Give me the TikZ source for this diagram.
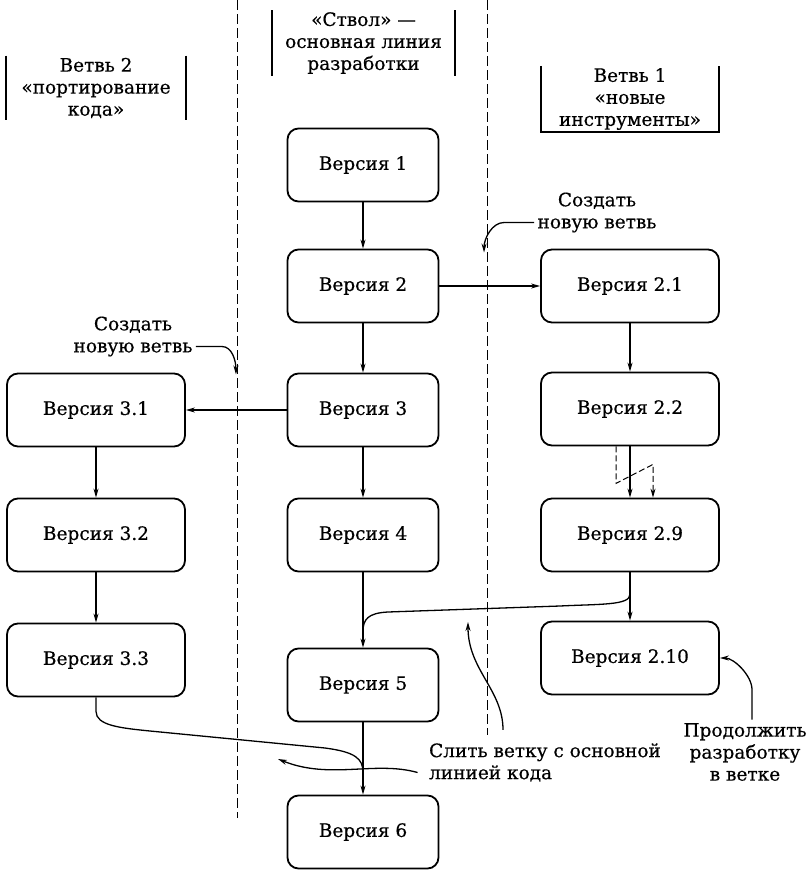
\documentclass[tikz,border=0pt]{standalone}
\usepackage{fontspec}
\setmainfont{DejaVu Serif}[FakeBold=0.5]
\usepackage{tikz}
\usetikzlibrary{arrows.meta,positioning,calc}

\begin{document}
\begin{tikzpicture}[x=1pt,y=-1pt,>={Stealth[length=9pt,width=5pt]},
  every node/.style={font=\fontsize{18.5}{22}\selectfont},
  ver/.style={draw,line width=1.8pt,rounded corners=11pt,minimum height=73pt,align=center},
  vmid/.style={ver,minimum width=151pt},
  vside/.style={ver,minimum width=178pt},
  link/.style={->,line width=1.3pt},
  wire/.style={line width=1.3pt},
  divider/.style={line width=1pt,dash pattern=on 10pt off 4pt},
  head/.style={align=center,inner xsep=0pt,inner ysep=2pt},
  bar/.style={line width=1.8pt}]
  \useasboundingbox (0,0) rectangle (811,870);
  \draw[divider] (237,0) -- (237,818);
  \draw[divider] (487,0) -- (487,735);
  \node[head,minimum width=179pt] (h2) at (96,88) {Ветвь 2\\«портирование\\кода»};
  \node[head,minimum width=183pt] (hm) at (363.5,43) {«Ствол» —\\основная линия\\разработки};
  \node[head,minimum width=178pt] (h1) at (630,99) {Ветвь 1\\«новые\\инструменты»};
  \draw[bar] (h2.north west) -- (h2.south west) (h2.north east) -- (h2.south east);
  \draw[bar] (hm.north west) -- (hm.south west) (hm.north east) -- (hm.south east);
  \draw[bar] (h1.north west) -- (h1.south west) -- (h1.south east) -- (h1.north east);
  \node[vmid] (v1) at (363,165) {Версия 1};
  \node[vmid] (v2) at (363,286) {Версия 2};
  \node[vmid] (v3) at (363,410) {Версия 3};
  \node[vmid] (v4) at (363,535) {Версия 4};
  \node[vmid] (v5) at (363,685) {Версия 5};
  \node[vmid] (v6) at (363,832) {Версия 6};
  \node[vside] (v21) at (630,286) {Версия 2.1};
  \node[vside] (v22) at (630,409) {Версия 2.2};
  \node[vside] (v29) at (630,535) {Версия 2.9};
  \node[vside] (v210) at (630,658) {Версия 2.10};
  \node[vside] (v31) at (96,410) {Версия 3.1};
  \node[vside] (v32) at (96,535) {Версия 3.2};
  \node[vside] (v33) at (96,660) {Версия 3.3};
  \draw[link] (v1) -- (v2);
  \draw[link] (v2) -- (v3);
  \draw[link] (v3) -- (v4);
  \draw[link] (v4) -- (v5);
  \draw[link] (v5) -- (v6);
  \draw[link] (v2) -- (v21);
  \draw[link] (v3) -- (v31);
  \draw[link] (v21) -- (v22);
  \draw[link] (v22) -- (v29);
  \draw[link] (v29) -- (v210);
  \draw[link] (v31) -- (v32);
  \draw[link] (v32) -- (v33);
  \draw[link,line width=1pt,dash pattern=on 6pt off 3pt] ([xshift=-14pt]v22.south) -- ++(0,37) -- ++(37,-19) -- ([xshift=23pt]v29.north);
  \coordinate (m1) at ($(v29.south)+(0,22)$);
  \coordinate (m2) at ($(v4.south)+(0,59)$);
  \coordinate (m3) at ($(v5.south)+(0,50)$);
  \draw[wire] (m1) .. controls +(0,11) and +(40,-2) .. (560,606) -- (388,612) .. controls +(-20,1) and +(0,-12) .. (m2);
  \draw[wire] (v33.south) -- ++(0,14) .. controls +(0,14) and +(-30,-3) .. (150,731) -- (325,748) .. controls +(30,4) and +(0,-14) .. (m3);
  \node (new1) at (597,212.5) [align=center] {Создать\\новую ветвь};
  \node (new2) at (133,336.5) [align=center] {Создать\\новую ветвь};
  \node (merge) at (545,762.5) [align=left] {Слить ветку с основной\\линией кода};
  \node (cont) at (745,752) [align=center] {Продолжить\\разработку\\в ветке};
  \coordinate (t1) at (468,622);
  \coordinate (t2) at (278,759);
  \draw[link] ([yshift=-10pt]new1.west) -- ++(-30,0) .. controls +(-12,0) and +(0,-14) .. ++(-20,30);
  \draw[link] ([yshift=-10pt]new2.east) -- ++(26,0) .. controls +(10,0) and +(0,-14) .. ++(14,28);
  \draw[link] ([xshift=-42pt,yshift=10pt]merge.north) .. controls +(0,-40) and +(0,48) .. (t1);
  \draw[link] ([xshift=-8pt,yshift=-10pt]merge.west) .. controls +(-43,-12) and +(52,21) .. (t2);
  \draw[link] ([xshift=7pt]cont.north) -- ++(0,-30) .. controls +(0,-14) and +(14,0) .. (v210.east);
\end{tikzpicture}
\end{document}
